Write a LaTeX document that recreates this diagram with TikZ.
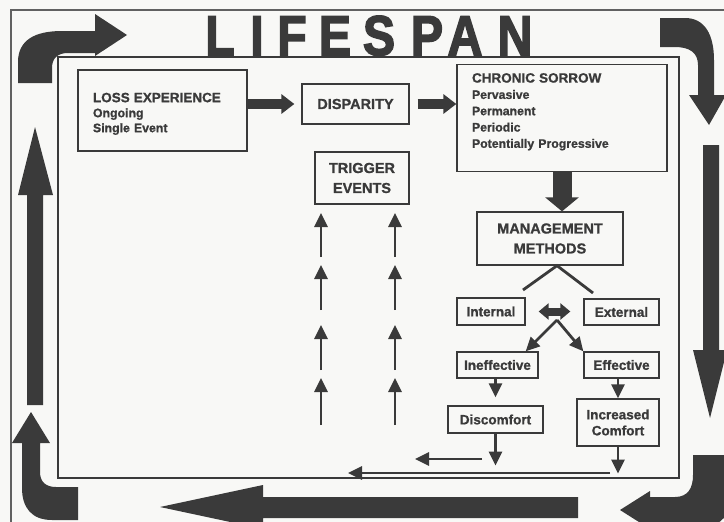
\documentclass[tikz,border=0pt]{standalone}
\usepackage{fontspec}
\setmainfont{Liberation Sans}[BoldFeatures={FakeBold=1}]
\newfontfamily\titlefont{Liberation Sans}[BoldFeatures={FakeBold=3}]
\usetikzlibrary{arrows.meta,positioning}
\definecolor{ink}{HTML}{3A3A3A}
\definecolor{paper}{HTML}{F8F8F6}
\tikzset{
	box/.style={draw=ink, line width=1.3pt, fill=paper, inner sep=0pt, align=center, text=ink, font=\bfseries\fontsize{13.5}{16}\selectfont},
	bigbox/.style={box, font=\bfseries\fontsize{14.5}{20}\selectfont},
	listbox/.style={box, align=left, font=\bfseries\fontsize{12.3}{15}\selectfont},
	fatarrow/.style={draw=ink, line width=10pt, -{Triangle[length=13pt,width=19pt]}},
	dblarrow/.style={draw=ink, line width=8pt, {Triangle[length=10pt,width=16pt]}-{Triangle[length=10pt,width=16pt]}},
	thinarrow/.style={draw=ink, line width=2.8pt, -{Triangle[length=14pt,width=13pt]}},
	branch/.style={draw=ink, line width=2.8pt},
	ttl/.style={text=ink, anchor=base, inner sep=0pt, xscale=0.86, font=\titlefont\bfseries\fontsize{56}{56}\selectfont},
}
\begin{document}
\begin{tikzpicture}[x=1pt, y=-1pt]
	\useasboundingbox (0,0) rectangle (724,522);
	\clip (0,0) rectangle (724,522);
	\fill[paper] (0,0) rectangle (724,522);
	\draw[ink!80, line width=1.2pt] (11,10) rectangle (730,530);
	\draw[ink, line width=1.3pt] (58,57) rectangle (679,478);
	% title
	\foreach \ch/\cx [count=\i] in {L/220, I/257, F/292, E/335, S/379, P/427, A/465, N/515}
		\node[ttl] (title\i) at (\cx,55) {\ch};
	% the lifespan arrows round the frame
	\fill[ink] (18,83) -- (18,62) .. controls (18,40) and (35,31) .. (62,31) -- (95,31) -- (95,14) -- (127,35) -- (95,56) -- (95,53) -- (68,53) .. controls (58,53) and (52,58) .. (52,68) -- (52,83) -- cycle;
	\fill[ink] (660,18) -- (685,18) .. controls (705,18) and (714,35) .. (714,60) -- (714,95) -- (726,95) -- (709,125) -- (689,95) -- (698,95) -- (698,65) .. controls (698,53) and (690,47) .. (675,47) -- (660,47) -- cycle;
	\fill[ink] (703,145) -- (719,145) -- (719,350) -- (727,350) -- (710,418) -- (693,350) -- (703,350) -- cycle;
	\fill[ink] (693,455) -- (730,455) -- (730,500) .. controls (730,520) and (715,528) .. (695,528) -- (650,528) -- (650,529) -- (620,510) -- (650,491) -- (650,497) -- (675,497) .. controls (688,497) and (693,488) .. (693,475) -- cycle;
	\fill[ink] (578,497) -- (578,518) -- (263,518) -- (263,529) -- (160,507) -- (263,485) -- (263,497) -- cycle;
	\fill[ink] (78,487) -- (78,520) -- (52,520) .. controls (32,520) and (22,508) .. (22,488) -- (22,443) -- (12,443) -- (31,412) -- (50,443) -- (40,443) -- (40,472) .. controls (40,482) and (46,487) .. (56,487) -- cycle;
	\fill[ink] (27,405) -- (43,405) -- (43,195) -- (53,195) -- (35,127) -- (18,195) -- (27,195) -- cycle;
	% boxes
	\node[listbox, minimum width=169pt, minimum height=81pt, text width=139pt] (loss) at (162.5,110.5)
		{\rule{0pt}{16pt}{\fontsize{13.5}{15}\selectfont LOSS EXPERIENCE}\\Ongoing\\Single Event};
	\node[bigbox, minimum width=107pt, minimum height=40pt] (disp) at (355.5,104) {DISPARITY};
	\node[listbox, minimum width=210pt, text width=180pt, inner ysep=9pt, font=\bfseries\fontsize{12.3}{16.3}\selectfont] (sorrow) at (562,118)
		{{\fontsize{13.5}{16.3}\selectfont CHRONIC SORROW}\\Pervasive\\Permanent\\Periodic\\Potentially Progressive\rule[-15pt]{0pt}{15pt}};
	\node[bigbox, minimum width=94pt, minimum height=52pt] (trig) at (362,178) {TRIGGER\\EVENTS};
	\node[bigbox, minimum width=146pt, minimum height=53pt] (mgmt) at (550,238.5) {MANAGEMENT\\METHODS};
	\node[box, minimum width=68pt, minimum height=27pt] (internal) at (491,311.5) {Internal};
	\node[box, minimum width=75pt, minimum height=26pt] (external) at (621.5,312) {External};
	\node[box, minimum width=81pt, minimum height=26pt] (ineff) at (497.5,365) {Ineffective};
	\node[box, minimum width=75pt, minimum height=26pt] (eff) at (621.5,365) {Effective};
	\node[box, minimum width=95pt, minimum height=27pt] (disc) at (495.5,419.5) {Discomfort};
	\node[box, minimum width=82pt, minimum height=47pt] (incr) at (618,422.5) {Increased\\Comfort};
	% connectors
	\draw[fatarrow, shorten >=7pt] (loss.east |- disp.west) -- (disp.west);
	\draw[fatarrow, shorten <=8pt] (disp.east) -- (disp.east -| sorrow.west);
	\draw[fatarrow, line width=19pt, -{Triangle[length=14pt,width=33pt]}] (sorrow.south) -- (sorrow.south |- mgmt.north);
	\coordinate (apex) at ([xshift=7pt]mgmt.south);
	\coordinate (lend) at (523,290);
	\coordinate (rend) at (593,293);
	\draw[branch] (lend) -- (apex) -- (rend);
	\draw[dblarrow, shorten <=13pt, shorten >=13pt] (internal.east) -- (internal.east -| external.west);
	\coordinate (fork) at (557,320);
	\draw[thinarrow] (fork) -- ([xshift=-13pt]ineff.north east);
	\draw[thinarrow] (fork) -- (eff.north west);
	\draw[thinarrow, shorten >=8pt] (ineff.south -| disc.north) -- (disc.north);
	\draw[thinarrow] (eff.south -| incr.north) -- (incr.north);
	\coordinate[below=32pt of disc.south] (dend);
	\coordinate[below=27pt of incr.south] (iend);
	\draw[thinarrow] (disc.south) -- (dend);
	\draw[thinarrow] (incr.south) -- (iend);
	\coordinate (short1) at (482,459);
	\coordinate (short2) at (415,459);
	\coordinate (long1) at (610,473);
	\coordinate (long2) at (348,473);
	\draw[thinarrow] (short1) -- (short2);
	\draw[thinarrow] (long1) -- (long2);
	\foreach \x [count=\i] in {321,395}
		\foreach \a/\b [count=\j] in {257/213, 310/265, 370/325, 425/378} {
			\coordinate (foot\i\j) at (\x,\a);
			\coordinate (head\i\j) at (\x,\b);
			\draw[thinarrow] (foot\i\j) -- (head\i\j);
		}
\end{tikzpicture}
\end{document}
